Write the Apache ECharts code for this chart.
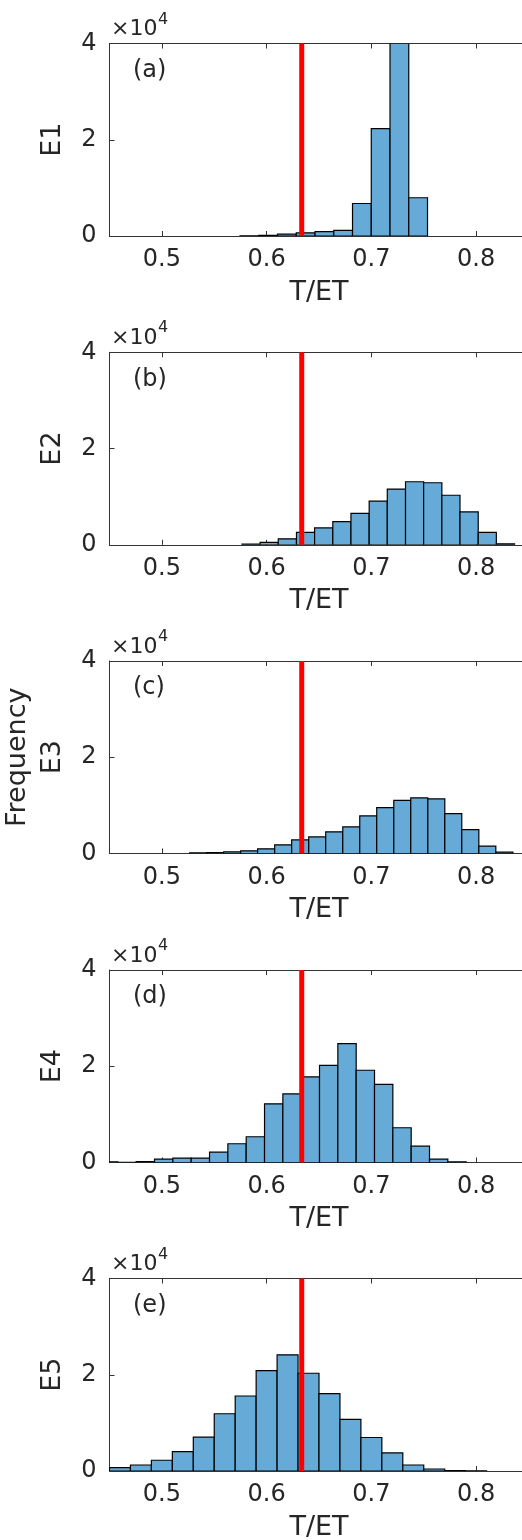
<!DOCTYPE html>
<html>
<head>
<meta charset="utf-8">
<script src="https://cdn.jsdelivr.net/npm/echarts@6/dist/echarts.min.js"></script>
<style>
  html, body { margin: 0; padding: 0; background: #ffffff; }
  #chart { width: 522px; height: 1540px; }
</style>
</head>
<body>
<div id="chart"></div>
<script>
// Histograms of T/ET for five experiments, with a reference ratio marked in red.

// Bin edges (T/ET) and counts for each experiment
const edgesE1 = [0.5746, 0.5925, 0.6104, 0.6283, 0.6462, 0.6641, 0.6820, 0.6999, 0.7178, 0.7357, 0.7536];
const countsE1 = [40, 120, 380, 650, 900, 1180, 6750, 22300, 40000, 7950];

const edgesE2 = [0.5764, 0.5938, 0.6111, 0.6285, 0.6458, 0.6632, 0.6805, 0.6979, 0.7152, 0.7326, 0.7499, 0.7673, 0.7846, 0.8020, 0.8193, 0.8367];
const countsE2 = [150, 500, 1250, 2600, 3500, 4800, 6550, 9060, 11570, 13100, 12890, 10300, 6830, 2580, 200];

const edgesE3 = [0.5265, 0.5427, 0.5590, 0.5752, 0.5914, 0.6077, 0.6239, 0.6402, 0.6564, 0.6727, 0.6889, 0.7051, 0.7214, 0.7376, 0.7539, 0.7701, 0.7863, 0.8026, 0.8188, 0.8351];
const countsE3 = [150, 200, 350, 550, 970, 1800, 2830, 3450, 4500, 5530, 7800, 9530, 11050, 11540, 11330, 8290, 4970, 1520, 300];

const edgesE4 = [0.4405, 0.4580, 0.4755, 0.4930, 0.5105, 0.5280, 0.5455, 0.5630, 0.5805, 0.5980, 0.6155, 0.6330, 0.6505, 0.6680, 0.6855, 0.7030, 0.7205, 0.7380, 0.7555, 0.7730, 0.7905];
const countsE4 = [150, 30, 200, 700, 900, 900, 2150, 3900, 5350, 12200, 14240, 17780, 20200, 24700, 19170, 16250, 7220, 3400, 700, 150];

const edgesE5 = [0.45, 0.47, 0.49, 0.51, 0.53, 0.55, 0.57, 0.59, 0.61, 0.63, 0.65, 0.67, 0.69, 0.71, 0.73, 0.75, 0.77, 0.79, 0.81];
const countsE5 = [700, 1250, 2230, 4030, 7030, 11900, 15580, 20870, 24140, 20310, 16070, 10710, 6960, 3760, 1250, 420, 100, 30];

// Reference T/ET value (red vertical line)
const refRatio = 0.6335;

// Axis ranges and ticks
const xRange = [0.45, 0.85];
const xTicks = [0.5, 0.6, 0.7, 0.8];
const yRange = [0, 40000];
const yTicks = [0, 20000, 40000];

// Panel annotations
const yNames = ['E1', 'E2', 'Frequency\nE3', 'E4', 'E5'];
const panelTags = ['(a)', '(b)', '(c)', '(d)', '(e)'];
const xName = 'T/ET';

const panels = [
  { edges: edgesE1, counts: countsE1 },
  { edges: edgesE2, counts: countsE2 },
  { edges: edgesE3, counts: countsE3 },
  { edges: edgesE4, counts: countsE4 },
  { edges: edgesE5, counts: countsE5 }
];

// Layout
const FONT = 'DejaVu Sans';
const INK = '#262626';
const AXIS = '#333333';
const BAR_FILL = '#66aad7';
const gridLeft = 109.5;
const gridWidth = 419;
const gridHeight = 192.5;
const gridTops = [43.5, 352.3, 661, 970, 1278.5];

const grids = [], xAxes = [], yAxes = [], series = [], graphics = [];

panels.forEach((p, i) => {
  grids.push({
    left: gridLeft, top: gridTops[i], width: gridWidth, height: gridHeight,
    show: false, containLabel: false, outerBoundsMode: 'none'
  });

  // bottom axis with labels
  xAxes.push({
    type: 'value', gridIndex: i, position: 'bottom',
    min: xRange[0], max: xRange[1],
    name: xName, nameLocation: 'middle', nameGap: 43,
    nameTextStyle: { fontFamily: FONT, fontSize: 27, color: INK },
    axisLine: { show: true, onZero: false, lineStyle: { color: AXIS, width: 1 } },
    axisTick: { show: true, inside: true, length: 5, customValues: xTicks, lineStyle: { color: AXIS } },
    axisLabel: { show: true, margin: 12, customValues: xTicks, fontFamily: FONT, fontSize: 24, color: INK,
      formatter: v => v.toFixed(1) },
    splitLine: { show: false }
  });
  // top axis: box edge with inward ticks
  xAxes.push({
    type: 'value', gridIndex: i, position: 'top',
    min: xRange[0], max: xRange[1],
    axisLine: { show: true, onZero: false, lineStyle: { color: AXIS, width: 1 } },
    axisTick: { show: true, inside: true, length: 5, customValues: xTicks, lineStyle: { color: AXIS } },
    axisLabel: { show: false },
    splitLine: { show: false }
  });

  yAxes.push({
    type: 'value', gridIndex: i, position: 'left',
    min: yRange[0], max: yRange[1], interval: 20000,
    name: yNames[i], nameLocation: 'middle', nameGap: 37, nameRotate: 90,
    nameTextStyle: { fontFamily: FONT, fontSize: 27, color: INK, lineHeight: 35, align: 'center' },
    axisLine: { show: true, onZero: false, lineStyle: { color: AXIS, width: 1 } },
    axisTick: { show: true, inside: true, length: 5, lineStyle: { color: AXIS } },
    axisLabel: { show: true, margin: 13, fontFamily: FONT, fontSize: 24, color: INK,
      formatter: v => String(v / 10000) },
    splitLine: { show: false }
  });

  const data = p.counts.map((c, k) => [p.edges[k], p.edges[k + 1], c]);

  series.push({
    type: 'custom',
    xAxisIndex: i * 2, yAxisIndex: i,
    clip: true,
    encode: { x: [0, 1], y: 2 },
    data: data,
    renderItem: (params, api) => {
      const topLeft = api.coord([api.value(0), api.value(2)]);
      const bottomRight = api.coord([api.value(1), 0]);
      const cs = params.coordSys;
      const rect = echarts.graphic.clipRectByRect(
        { x: topLeft[0], y: topLeft[1], width: bottomRight[0] - topLeft[0], height: bottomRight[1] - topLeft[1] },
        { x: cs.x, y: cs.y, width: cs.width, height: cs.height }
      );
      if (!rect) return null;
      return {
        type: 'rect', shape: rect,
        style: { fill: BAR_FILL, stroke: '#000000', lineWidth: 1.2 }
      };
    },
    z: 2
  });

  series.push({
    type: 'line',
    xAxisIndex: i * 2, yAxisIndex: i,
    data: [[refRatio, yRange[0]], [refRatio, yRange[1]]],
    symbol: 'none',
    lineStyle: { color: '#ff0000', width: 5 },
    silent: true,
    z: 5
  });

  // exponent marker above the y axis
  graphics.push({
    type: 'text', left: 111, top: gridTops[i] - 25,
    style: { text: '×10', fontFamily: FONT, fontSize: 22, fill: INK }
  });
  graphics.push({
    type: 'text', left: 158, top: gridTops[i] - 32,
    style: { text: '4', fontFamily: FONT, fontSize: 16, fill: INK }
  });
  // panel tag
  graphics.push({
    type: 'text', left: 133, top: gridTops[i] + 15,
    style: { text: panelTags[i], fontFamily: FONT, fontSize: 24, fill: INK }
  });
});

const chart = echarts.init(document.getElementById('chart'), null, { renderer: 'canvas' });
chart.setOption({
  backgroundColor: '#ffffff',
  animation: false,
  grid: grids,
  xAxis: xAxes,
  yAxis: yAxes,
  series: series,
  graphic: graphics
});
</script>
</body>
</html>
